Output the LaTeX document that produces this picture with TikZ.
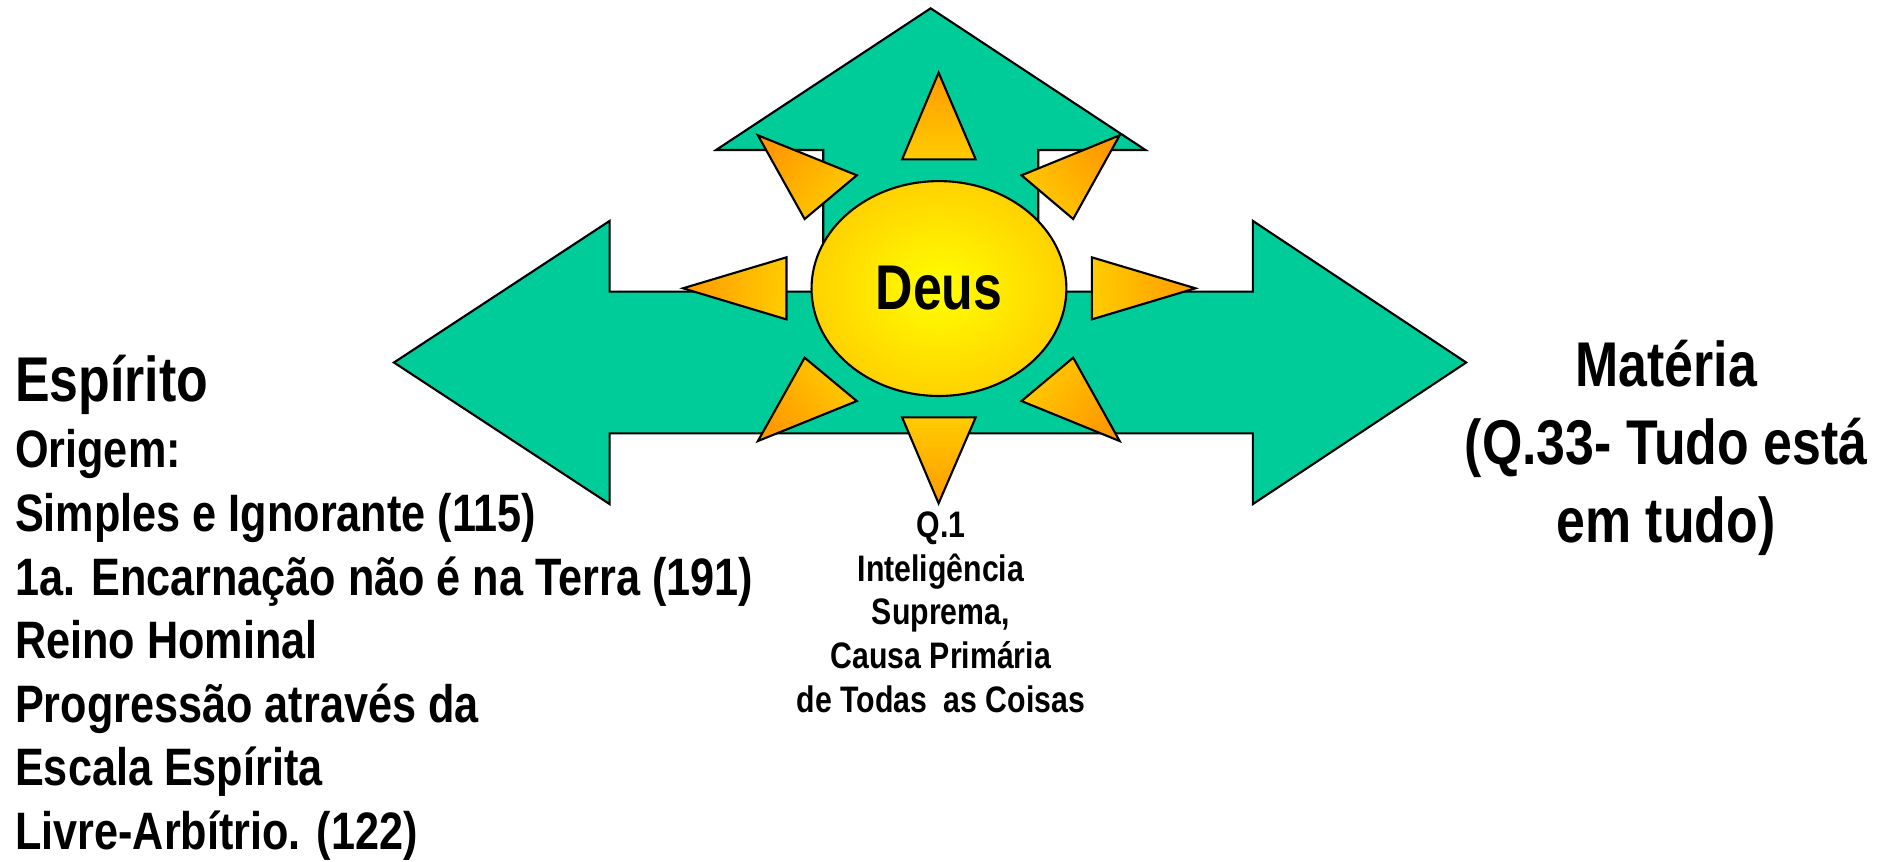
\documentclass[tikz,border=0pt]{standalone}
\usepackage{fontspec}
\setmainfont{Liberation Sans}[FakeStretch=0.82]
\usetikzlibrary{shapes.geometric}
\definecolor{arrowgreen}{HTML}{00CC99}
\definecolor{raydark}{HTML}{FF9900}
\definecolor{raylight}{HTML}{FFCC00}
\definecolor{suninner}{HTML}{FFFF00}
\definecolor{sunouter}{HTML}{FFD200}
\tikzset{
	ray/.style={draw=black, line width=0.6pt, top color=raydark, bottom color=raylight},
	bigtext/.style={inner sep=0pt, font=\bfseries\fontsize{18}{22.2}\selectfont},
	smalltext/.style={inner sep=0pt, font=\bfseries\fontsize{10.5}{12.4}\selectfont}
}
\begin{document}
\begin{tikzpicture}[x=0.012047cm, y=-0.012047cm]
	\useasboundingbox (0,0) rectangle (1568,715);
	% the two green arrows, one outline
	\filldraw[fill=arrowgreen, line width=0.6pt] (327,300.9) -- (506,183.4) -- (506,242.1) -- (683.3,242.1) -- (683.3,124.5) -- (594.4,124.5) -- (772.5,6.9) -- (950.8,124.5) -- (861.8,124.5) -- (861.8,242.1) -- (1040,242.1) -- (1040,183.4) -- (1217,300.9) -- (1040,418.4) -- (1040,359.7) -- (506,359.7) -- (506,418.4) -- cycle;
	% rays
	\shadedraw[ray, shading angle=0] (779.1,60.3) -- (809.9,132.3) -- (748.8,132.3) -- cycle;
	\shadedraw[ray, shading angle=180] (779.1,417.8) -- (809.9,346.4) -- (748.8,346.4) -- cycle;
	\shadedraw[ray, shading angle=90] (566.9,239.3) -- (652.8,213.6) -- (652.8,265.1) -- cycle;
	\shadedraw[ray, shading angle=-90] (992.3,239.3) -- (906.3,213.6) -- (906.3,265.1) -- cycle;
	\shadedraw[ray, shading angle=50] (629.1,112.3) -- (711.2,145.5) -- (667.9,181.8) -- cycle;
	\shadedraw[ray, shading angle=-50] (929.4,112.3) -- (847.9,145.5) -- (890.8,181.8) -- cycle;
	\shadedraw[ray, shading angle=130] (629.1,366.1) -- (711.2,332.9) -- (667.9,296.9) -- cycle;
	\shadedraw[ray, shading angle=-130] (929.4,366.1) -- (847.9,332.9) -- (890.8,296.9) -- cycle;
	\node[ellipse, draw, line width=0.6pt, inner color=suninner, outer color=sunouter, minimum width=25.5mm, minimum height=21.5mm, font=\bfseries\fontsize{18}{22}\selectfont] (deus) at (779.4,239.5) {Deus};
	\node[smalltext, anchor=base, align=center] (q1) at (781,591) {Q.1\\Inteligência\\Suprema,\\Causa Primária\\de Todas\ \ as Coisas};
	\node[bigtext, anchor=base, align=center] (materia) at (1383,450) {Matéria\\(Q.33- Tudo está\\em tudo)};
	\node[bigtext, anchor=base west] (espirito) at (12,333) {Espírito};
	\node[inner sep=0pt, anchor=base west, align=left, font=\bfseries\fontsize{15}{18.1}\selectfont] (origem) at (12,705) {Origem:\\Simples e Ignorante (115)\\1a. Encarnação não é na Terra (191)\\Reino Hominal\\Progressão através da\\Escala Espírita\\Livre-Arbítrio. (122)};
\end{tikzpicture}
\end{document}
